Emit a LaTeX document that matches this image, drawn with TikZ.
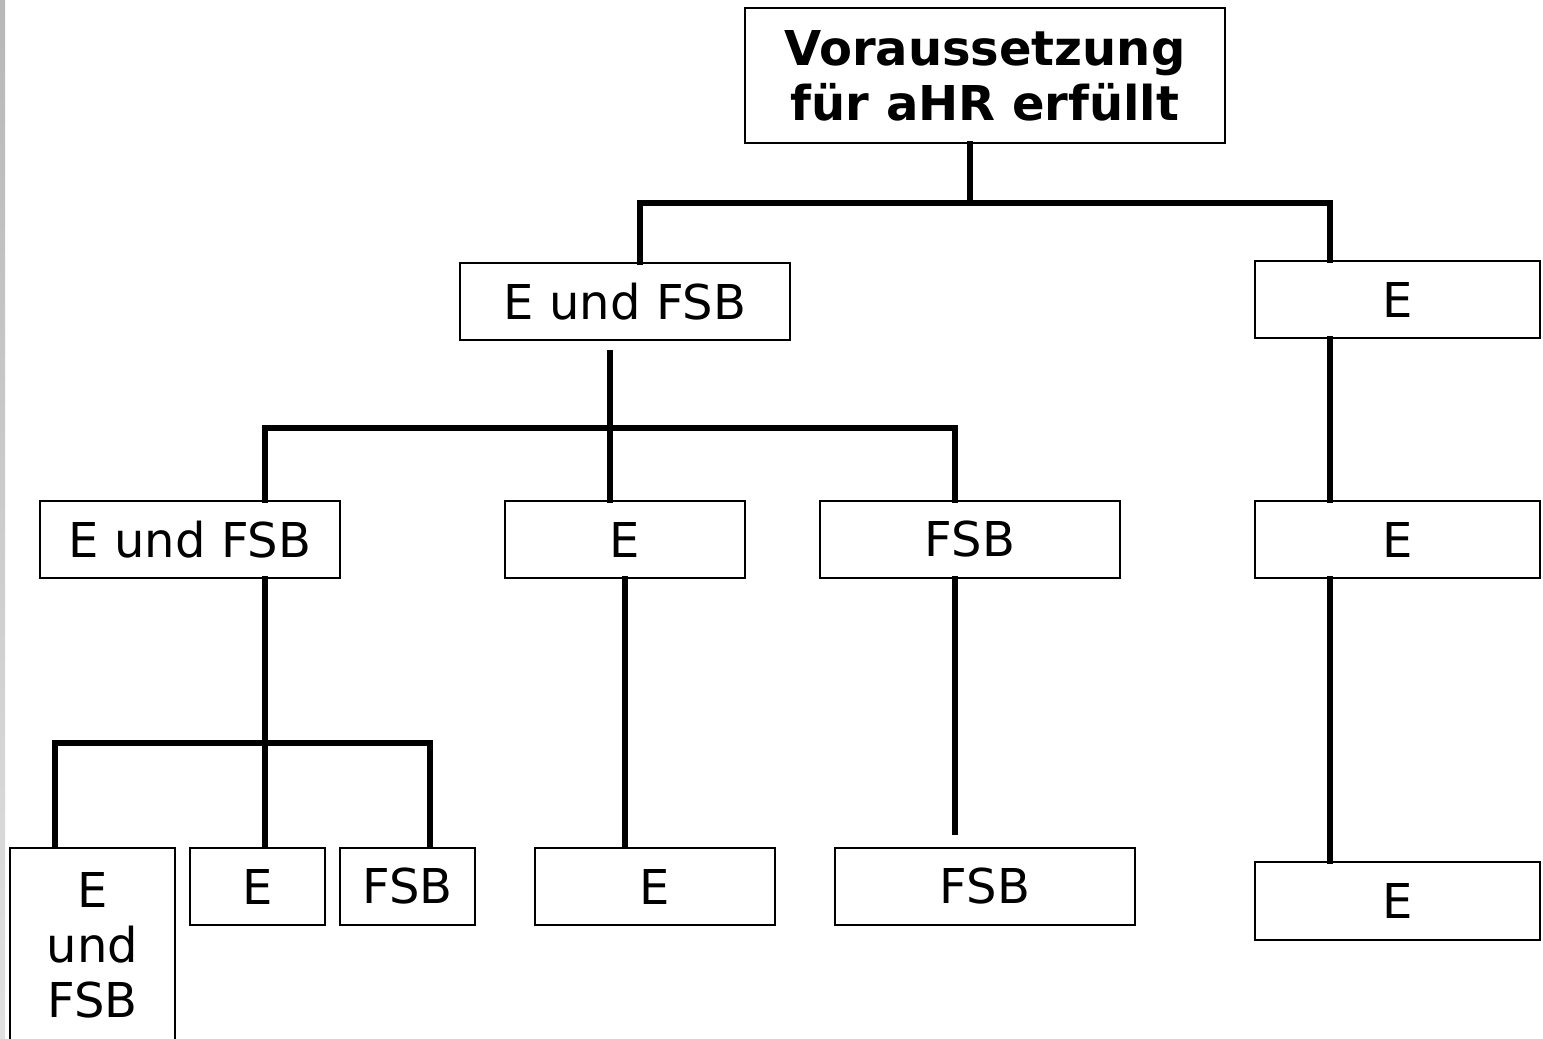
\documentclass[tikz,border=0pt]{standalone}
\usepackage{fontspec}
\setmainfont{DejaVu Sans}
\begin{document}
\begin{tikzpicture}[x=0.5pt,y=-0.5pt,
  box/.style={draw=black,line width=1pt,fill=white,inner sep=0pt,align=center,
    font=\fontsize{24pt}{27.5pt}\selectfont},
  conn/.style={draw=black,line width=2.6pt,line cap=rect}]
\useasboundingbox (0,0) rectangle (1543,1039);
\clip (0,0) rectangle (1543,1039);
\fill[white] (0,0) rectangle (1543,1039);
\shade[top color=black!28,bottom color=black!12] (0,0) rectangle (5,1039);
% nodes
\node[box,minimum width=240pt,minimum height=67.5pt,font=\fontsize{24pt}{27.5pt}\selectfont\bfseries] (top) at (985,75.5) {Voraussetzung\\für aHR erfüllt};
\node[box,minimum width=165pt,minimum height=38.5pt] (l1a) at (625,301.5) {E und FSB};
\node[box,minimum width=142.5pt,minimum height=38.5pt] (l1b) at (1397.5,299.5) {E};
\node[box,minimum width=150pt,minimum height=38.5pt] (l2a) at (190,539.5) {E und FSB};
\node[box,minimum width=120pt,minimum height=38.5pt] (l2b) at (625,539.5) {E};
\node[box,minimum width=150pt,minimum height=38.5pt] (l2c) at (970,539.5) {FSB};
\node[box,minimum width=142.5pt,minimum height=38.5pt] (l2d) at (1397.5,539.5) {E};
\node[box,minimum width=82.5pt,minimum height=97pt] (l3a) at (92.5,945) {E\\und\\FSB};
\node[box,minimum width=67.5pt,minimum height=38.5pt] (l3b) at (257.5,886.5) {E};
\node[box,minimum width=67.5pt,minimum height=38.5pt] (l3c) at (407.5,886.5) {FSB};
\node[box,minimum width=120pt,minimum height=38.5pt] (l3d) at (655,886.5) {E};
\node[box,minimum width=150pt,minimum height=38.5pt] (l3e) at (985,886.5) {FSB};
\node[box,minimum width=142.5pt,minimum height=39pt] (l3f) at (1397.5,901) {E};
% junction coordinates
\coordinate (j0) at (970,203);
\coordinate (j0l) at (640,203);
\coordinate (j0r) at (1330,203);
\coordinate (j1s) at (610,353);
\coordinate (j1) at (610,428);
\coordinate (j1l) at (265,428);
\coordinate (j1r) at (955,428);
\coordinate (j2) at (265,743);
\coordinate (j2l) at (55,743);
\coordinate (j2r) at (430,743);
\coordinate (e2) at (625,0);
\coordinate (e3) at (955,832);
% connectors
\draw[conn] (top.south -| j0) -- (j0);
\draw[conn] (j0l) -- (j0r);
\draw[conn] (j0l) -- (l1a.north -| j0l);
\draw[conn] (j0r) -- (l1b.north -| j0r);
\draw[conn] (j1s) -- (l2b.north -| j1s);
\draw[conn] (j1l) -- (j1r);
\draw[conn] (j1l) -- (l2a.north -| j1l);
\draw[conn] (j1r) -- (l2c.north -| j1r);
\draw[conn] (l1b.south -| j0r) -- (l2d.north -| j0r);
\draw[conn] (l2d.south -| j0r) -- (l3f.north -| j0r);
\draw[conn] (l2a.south -| j2) -- ([yshift=1pt]l3b.north -| j2);
\draw[conn] (j2l) -- (j2r);
\draw[conn] (j2l) -- ([yshift=1pt]l3a.north -| j2l);
\draw[conn] (j2r) -- ([yshift=1pt]l3c.north -| j2r);
\draw[conn] (l2b.south -| e2) -- ([yshift=1pt]l3d.north -| e2);
\draw[conn] (l2c.south -| e3) -- (e3);
\end{tikzpicture}
\end{document}
